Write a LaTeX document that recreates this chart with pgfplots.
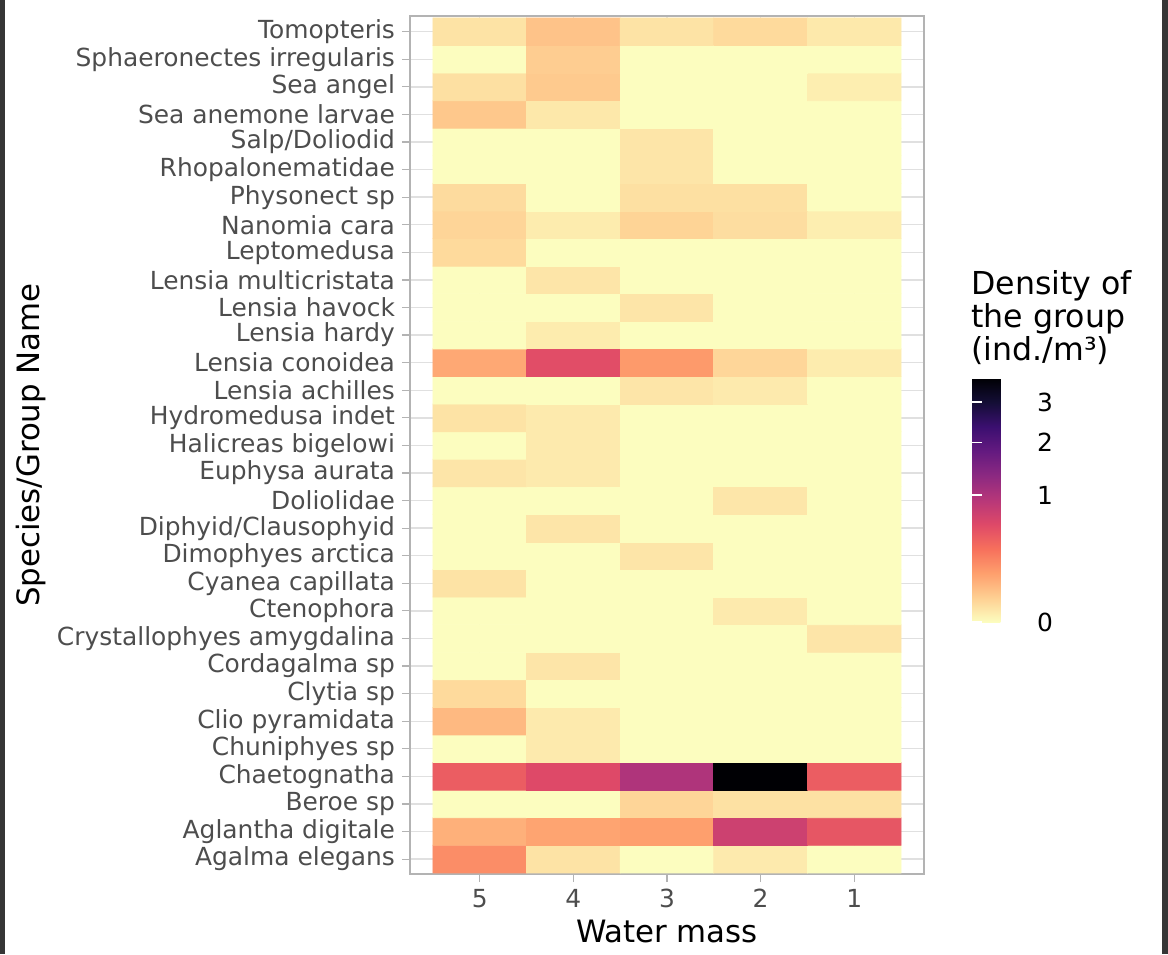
\documentclass[border=0pt]{standalone}
\usepackage{fontspec}
\setmainfont{DejaVu Sans}
\usepackage{pgfplots}
\pgfplotsset{compat=1.18}
\usepackage{pgfplotstable}
\pgfplotsset{colormap={magmar}{rgb255=(252,253,191) rgb255=(254,207,146) rgb255=(254,159,109) rgb255=(247,112,92) rgb255=(222,73,104) rgb255=(183,55,121) rgb255=(140,41,129) rgb255=(100,26,128) rgb255=(59,15,112) rgb255=(20,14,54) rgb255=(0,0,4)}}
\definecolor{tickgray}{HTML}{4D4D4D}
\definecolor{bordergray}{HTML}{B3B3B3}
\definecolor{gridgray}{HTML}{E0E0E0}
\definecolor{darkstrip}{HTML}{363636}
% x: 1..5 = water mass 5,4,3,2,1 ; y: 1 = Agalma elegans ... 31 = Tomopteris ; v = density (ind./m^3)
\pgfplotstableread{
x y v
1 1 0.21
2 1 0.012
3 1 0
4 1 0.006
5 1 0
1 2 0.10
2 2 0.134
3 2 0.148
4 2 0.74
5 2 0.50
1 3 0
2 3 0
3 3 0.028
4 3 0.014
5 3 0.014
1 4 0.45
2 4 0.59
3 4 1.0
4 4 3.70
5 4 0.45
1 5 0
2 5 0.006
3 5 0
4 5 0
5 5 0
1 6 0.078
2 6 0.006
3 6 0
4 6 0
5 6 0
1 7 0.022
2 7 0
3 7 0
4 7 0
5 7 0
1 8 0
2 8 0.01
3 8 0
4 8 0
5 8 0
1 9 0
2 9 0
3 9 0
4 9 0
5 9 0.01
1 10 0
2 10 0
3 10 0
4 10 0.006
5 10 0
1 11 0.012
2 11 0
3 11 0
4 11 0
5 11 0
1 12 0
2 12 0
3 12 0.01
4 12 0
5 12 0
1 13 0
2 13 0.01
3 13 0
4 13 0
5 13 0
1 14 0
2 14 0
3 14 0
4 14 0.009
5 14 0
1 15 0.01
2 15 0.006
3 15 0
4 15 0
5 15 0
1 16 0
2 16 0.006
3 16 0
4 16 0
5 16 0
1 17 0.012
2 17 0.006
3 17 0
4 17 0
5 17 0
1 18 0
2 18 0
3 18 0.01
4 18 0.006
5 18 0
1 19 0.121
2 19 0.56
3 19 0.163
4 19 0.027
5 19 0.005
1 20 0
2 20 0.005
3 20 0
4 20 0
5 20 0
1 21 0
2 21 0
3 21 0.01
4 21 0
5 21 0
1 22 0
2 22 0.01
3 22 0
4 22 0
5 22 0
1 23 0.022
2 23 0
3 23 0
4 23 0
5 23 0
1 24 0.028
2 24 0.005
3 24 0.03
4 24 0.018
5 24 0.004
1 25 0.02
2 25 0
3 25 0.015
4 25 0.015
5 25 0
1 26 0
2 26 0
3 26 0.01
4 26 0
5 26 0
1 27 0
2 27 0
3 27 0.01
4 27 0
5 27 0
1 28 0.049
2 28 0.008
3 28 0
4 28 0
5 28 0
1 29 0.015
2 29 0.045
3 29 0
4 29 0
5 29 0.004
1 30 0
2 30 0.04
3 30 0
4 30 0
5 30 0
1 31 0.012
2 31 0.058
3 31 0.012
4 31 0.022
5 31 0.007
}\heat
\begin{document}
\begin{tikzpicture}
\useasboundingbox (0,0) rectangle (584pt,477pt);
\fill[darkstrip] (0,0) rectangle (2.5pt,477pt);
\fill[darkstrip] (581pt,0) rectangle (584pt,477pt);
\begin{axis}[
  at={(205pt,40pt)}, anchor=south west,
  scale only axis, width=257pt, height=429pt,
  xmin=0.255, xmax=5.745, ymin=0.46, ymax=31.57,
  enlargelimits=false,
  colormap name=magmar,
  point meta min=0, point meta max=1.9235,
  xtick={1,2,3,4,5}, xticklabels={5,4,3,2,1},
  ytick={1,...,31},
  yticklabels={Agalma elegans, Aglantha digitale, Beroe sp, Chaetognatha, Chuniphyes sp, Clio pyramidata, Clytia sp, Cordagalma sp, Crystallophyes amygdalina, Ctenophora, Cyanea capillata, Dimophyes arctica, Diphyid/Clausophyid, Doliolidae, Euphysa aurata, Halicreas bigelowi, Hydromedusa indet, Lensia achilles, Lensia conoidea, Lensia hardy, Lensia havock, Lensia multicristata, Leptomedusa, Nanomia cara, Physonect sp, Rhopalonematidae, Salp/Doliodid, Sea anemone larvae, Sea angel, Sphaeronectes irregularis, Tomopteris},
  tick pos=left, tick align=outside, major tick length=4pt,
  xtick style={bordergray, line width=0.6pt},
  ytick style={bordergray, line width=0.6pt},
  axis line style={bordergray, line width=0.8pt},
  xmajorgrids, ymajorgrids,
  major grid style={gridgray, line width=0.7pt},
  ticklabel style={font=\fontsize{12.45}{14}\selectfont, text=tickgray},
  xlabel={Water mass}, ylabel={Species/Group Name},
  label style={font=\fontsize{15.4}{18}\selectfont, text=black},
  xlabel style={at={(axis description cs:0.5,-0.0793)}, anchor=base},
  ylabel style={at={(axis description cs:-0.72,0.5)}, anchor=base},
  colorbar,
  colorbar style={
    at={(1.0934,0.2937)}, anchor=south west,
    scale only axis, width=25pt, height=122pt,
    ymin=0, ymax=1.9235,
    ytick={0,1,1.41421,1.73205}, yticklabels={0,1,2,3},
    axis line style={draw=none},
    axis on top,
    tick pos=both, yticklabel pos=right,
    tick align=inside, major tick length=5pt,
    ytick style={draw=white, line width=0.8pt},
    yticklabel style={font=\fontsize{12.45}{14}\selectfont, text=black, xshift=4pt},
    xmajorgrids=false, ymajorgrids=false,
  },
]
\addplot[matrix plot*, mesh/cols=5, point meta={sqrt(\thisrow{v})}] table[x=x, y=y] {\heat};
\end{axis}
\node[anchor=north west, inner sep=0pt, align=left, font=\fontsize{15.8}{16.4}\selectfont] at (485.5pt,342pt) {Density of\\the group\\(ind./m³)};
\end{tikzpicture}
\end{document}
